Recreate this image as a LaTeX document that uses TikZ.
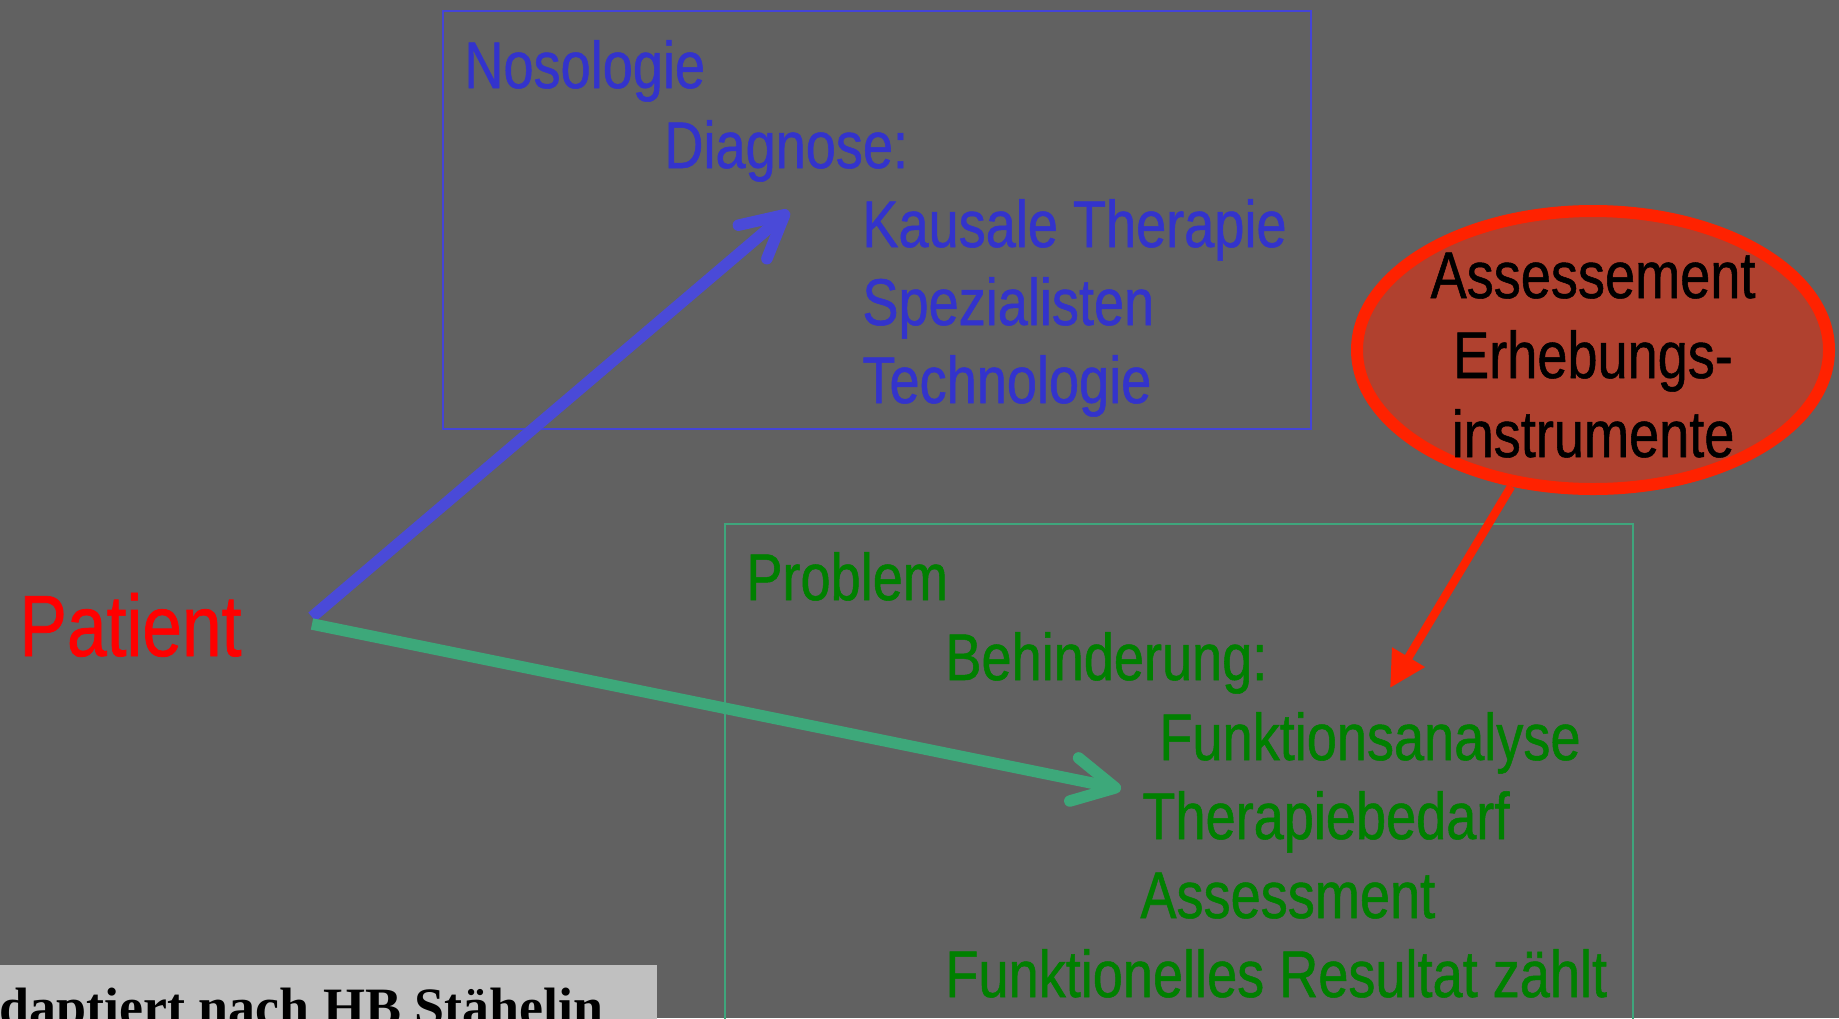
\documentclass[tikz,border=0pt]{standalone}
\usepackage{fontspec}
\setmainfont{Liberation Sans}[FakeStretch=0.82,FakeBold=0.8]
\newfontfamily\footfont{Liberation Serif}
\usetikzlibrary{arrows.meta,shapes.geometric}
\definecolor{bg}{HTML}{616161}
\definecolor{bluetxt}{HTML}{3333CC}
\definecolor{bluebox}{HTML}{4444D8}
\definecolor{bluearr}{HTML}{4A4AD8}
\definecolor{greentxt}{HTML}{008000}
\definecolor{greenbox}{HTML}{3FA57C}
\definecolor{greenarr}{HTML}{3DA87A}
\definecolor{redstroke}{HTML}{FF2200}
\definecolor{redfill}{HTML}{B0412F}
\definecolor{footbg}{HTML}{C0C0C0}
\begin{document}
\begin{tikzpicture}[x=0.5pt,y=-0.5pt,
  txt/.style={anchor=base west,inner sep=0pt,font=\fontsize{33}{40}\selectfont},
  btxt/.style={txt,text=bluetxt},
  gtxt/.style={txt,text=greentxt},
  etxt/.style={anchor=base,inner sep=0pt,font=\fontsize{33}{40}\selectfont,text=black},
  bigarrow/.style={line width=5.75pt,-{Straight Barb[length=21pt,width=22pt,round]}},
  redarrow/.style={line width=4.2pt,draw=redstroke,-{Triangle[length=18pt,width=18pt,fill=redstroke]}}]
\clip (0,0) rectangle (1839,1018);
\fill[bg] (0,0) rectangle (1839,1018);
% boxes
\draw[bluebox,line width=1pt] (443,11) rectangle (1311,429);
\draw[greenbox,line width=1pt] (725,524) rectangle (1633,1040);
% blue texts
\node[btxt] (noso) at (464,88) {Nosologie};
\node[btxt] (diag) at (664,168) {Diagnose:};
\node[btxt] (kaus) at (862,247) {Kausale Therapie};
\node[btxt] (spez) at (862,325) {Spezialisten};
\node[btxt] (tech) at (862,403) {Technologie};
% green texts
\node[gtxt] (prob) at (746,600) {Problem};
\node[gtxt] (behi) at (945,680) {Behinderung:};
\node[gtxt] (funk) at (1159,760) {Funktionsanalyse};
\node[gtxt] (ther) at (1142,839) {Therapiebedarf};
\node[gtxt] (asse) at (1140,918) {Assessment};
\node[gtxt] (resu) at (945,997) {Funktionelles Resultat zählt};
% patient
\node[anchor=base west,inner sep=0pt,text=red,font=\fontsize{43.5}{50}\selectfont] (pat) at (19,656) {Patient};
% ellipse
\node[ellipse,draw=redstroke,fill=redfill,line width=6pt,minimum width=236pt,minimum height=139pt,inner sep=0pt] (ell) at (1593,350) {};
\node[etxt] (e1) at (1593,298) {Assessement};
\node[etxt] (e2) at (1593,378) {Erhebungs-};
\node[etxt] (e3) at (1593,457) {instrumente};
% footer
\fill[footbg] (0,965) rectangle (657,1030);
\node[anchor=base east,inner sep=0pt,font=\footfont\bfseries\fontsize{27}{30}\selectfont] (src) at (604,1025) {Adaptiert nach HB Stähelin};
% arrows
\coordinate (btail) at (312,617);
\coordinate (btip) at (789,211);
\coordinate (gtail) at (312,624);
\coordinate (gtip) at (1121,789);
\coordinate (rtip) at (1390,688);
\draw[bigarrow,draw=bluearr] (btail) -- (btip);
\draw[bigarrow,draw=greenarr] (gtail) -- (gtip);
\draw[redarrow] (ell) -- (rtip);
\end{tikzpicture}
\end{document}
